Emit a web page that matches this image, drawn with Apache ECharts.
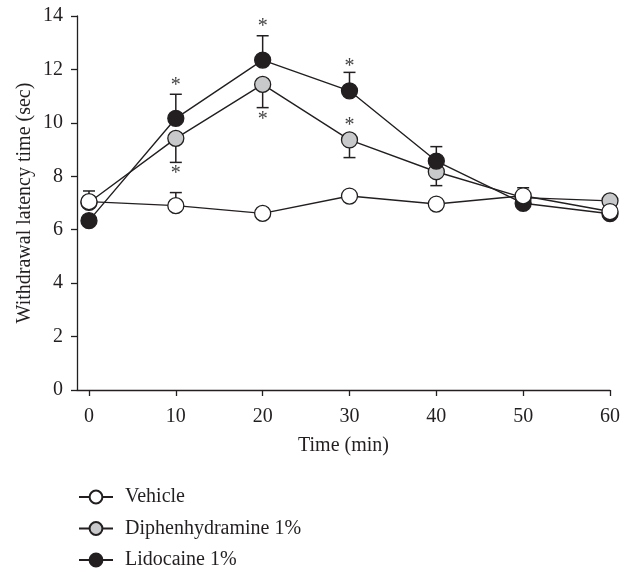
<!DOCTYPE html>
<html><head><meta charset="utf-8">
<script src="https://cdn.jsdelivr.net/npm/echarts@6/dist/echarts.min.js"></script>
<style>html,body{margin:0;padding:0;background:#fff}#c{width:630px;height:576px}</style>
</head><body><div id="c"></div>
<script>
const times = [0, 10, 20, 30, 40, 50, 60];
const xTicks = [0, 10, 20, 30, 40, 50, 60];
const yTicks = [0, 2, 4, 6, 8, 10, 12, 14];
const vehicle = [7.05, 6.9, 6.61, 7.26, 6.96, 7.27, 6.68];
const vehicleErrUp = [0.4, 0.49, 0, 0, 0, 0.3, 0];
const diphen = [7.02, 9.42, 11.44, 9.36, 8.17, 7.2, 7.08];
const diphenErrDown = [0, 0.9, 0.87, 0.66, 0.52, 0, 0];
const lido = [6.34, 10.17, 12.35, 11.2, 8.57, 6.99, 6.6];
const lidoErrUp = [0, 0.9, 0.91, 0.69, 0.54, 0, 0];
const starTimes = [10, 20, 30, 10, 20, 30];
const starValues = [11.4, 13.6, 12.1, 8.1, 10.1, 9.9];
const names = ['Vehicle', 'Diphenhydramine 1%', 'Lidocaine 1%'];

const ink = '#231f20';
const font = 'Liberation Serif';
const fs = 20;

function errData(vals, errs, dir) {
  const out = [];
  vals.forEach((v, i) => { if (errs[i] > 0) out.push([times[i], v, v + dir * errs[i]]); });
  return out;
}
function errSeries(vals, errs, dir, z) {
  return {
    type: 'custom', z: z, silent: true,
    data: errData(vals, errs, dir),
    renderItem: function (params, api) {
      const p0 = api.coord([api.value(0), api.value(1)]);
      const p1 = api.coord([api.value(0), api.value(2)]);
      const hw = 6;
      return { type: 'group', children: [
        { type: 'line', shape: { x1: p0[0], y1: p0[1], x2: p1[0], y2: p1[1] }, style: { stroke: ink, lineWidth: 1.5 } },
        { type: 'line', shape: { x1: p1[0] - hw, y1: p1[1], x2: p1[0] + hw, y2: p1[1] }, style: { stroke: ink, lineWidth: 1.5 } }
      ]};
    }
  };
}
function pairs(vals) { return vals.map((v, i) => [times[i], v]); }

const lineBase = (name, vals, fill, z) => ({
  name: name, type: 'line', data: pairs(vals), z: z,
  symbol: 'circle', symbolSize: 16,
  lineStyle: { color: ink, width: 1.4 },
  itemStyle: { color: fill, borderColor: ink, borderWidth: 1.3 },
  emphasis: { disabled: true }
});

const chart = echarts.init(document.getElementById('c'), null, { renderer: 'canvas' });
chart.setOption({
  animation: false,
  backgroundColor: '#fff',
  textStyle: { fontFamily: font },
  grid: { left: 77, right: 20, top: 16, bottom: 186, containLabel: false },
  xAxis: {
    type: 'value', min: -1.38, max: 60,
    name: 'Time (min)', nameLocation: 'middle', nameGap: 46, nameMoveOverlap: false,
    nameTextStyle: { fontFamily: font, fontSize: fs, color: ink },
    axisLine: { show: true, onZero: false, lineStyle: { color: ink, width: 1.3 } },
    axisTick: { show: true, length: 6, lineStyle: { color: ink, width: 1.3 }, customValues: xTicks },
    axisLabel: { fontFamily: font, fontSize: fs, color: ink, margin: 17, customValues: xTicks },
    splitLine: { show: false }
  },
  yAxis: {
    type: 'value', min: 0, max: 14, interval: 2,
    name: 'Withdrawal latency time (sec)', nameLocation: 'middle', nameGap: 42, nameMoveOverlap: false,
    nameTextStyle: { fontFamily: font, fontSize: fs, color: ink },
    axisLine: { show: true, onZero: false, lineStyle: { color: ink, width: 1.3 } },
    axisTick: { show: true, length: 6, lineStyle: { color: ink, width: 1.3 }, customValues: yTicks },
    axisLabel: { fontFamily: font, fontSize: fs, color: ink, margin: 14, customValues: yTicks },
    splitLine: { show: false }
  },
  legend: {
    orient: 'vertical', left: 73, top: 482, itemGap: 11.5,
    itemWidth: 34, itemHeight: 16,
    data: names,
    textStyle: { fontFamily: font, fontSize: fs, color: ink, lineHeight: 20, padding: [0, 0, 0, 7] }
  },
  series: [
    errSeries(diphen, diphenErrDown, -1, 1),
    lineBase(names[1], diphen, '#c8c9ca', 2),
    errSeries(lido, lidoErrUp, 1, 3),
    lineBase(names[2], lido, ink, 4),
    errSeries(vehicle, vehicleErrUp, 1, 5),
    lineBase(names[0], vehicle, '#ffffff', 6),
    {
      type: 'custom', z: 7, silent: true,
      data: starTimes.map((t, i) => [t, starValues[i]]),
      renderItem: function (params, api) {
        const p = api.coord([api.value(0), api.value(1)]);
        return { type: 'text', x: p[0], y: p[1], style: { text: '*', font: '20px ' + font, fill: '#444', align: 'center', verticalAlign: 'middle' } };
      }
    }
  ]
});
</script></body></html>
